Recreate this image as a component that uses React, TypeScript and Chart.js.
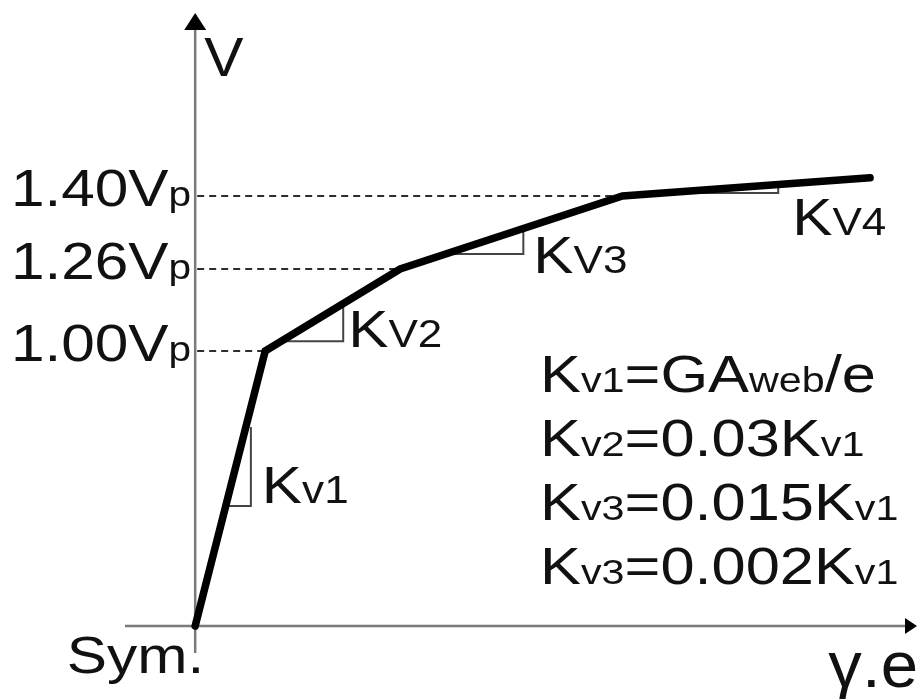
import React, { useEffect, useRef } from 'react';
import { Chart, registerables, LinearScale } from 'chart.js';

// Backbone curve of the web shear spring: shear strain (γ·e) against shear force V
const gammaE = [0, 9.7, 28.4, 59.2, 93.5];
const shearV = [0, 1.0, 1.26, 1.4, 1.435];

// Force levels marked on the V axis (multiples of Vp)
const levelValues = [1.0, 1.26, 1.4];
const levelLabels = ['1.00', '1.26', '1.40'];

// Stiffness of each branch
const slopeNames = ['v1', 'V2', 'V3', 'V4'];
const stiffnessNames = ['v1', 'v2', 'v3', 'v3'];
const stiffnessRules = ['=GA|web|/e', '=0.03K|v1|', '=0.015K|v1|', '=0.002K|v1|'];

// The V axis is schematic: each force level sits at its own height on the axis
const Y_KNOT_VALUES = [0, 1.0, 1.26, 1.4, 1.75];
const Y_KNOT_DECIMALS = [0, 0.4486, 0.5824, 0.7015, 1];

class SchematicScale extends LinearScale {
  static id = 'schematic';
  static defaults = LinearScale.defaults;

  getPixelForValue(value: any) {
    if (value === null || value === undefined || isNaN(+value)) return NaN;
    const v = +value;
    const kv = Y_KNOT_VALUES;
    const kd = Y_KNOT_DECIMALS;
    let i = 0;
    while (i < kv.length - 2 && v > kv[i + 1]) i++;
    const t = (v - kv[i]) / (kv[i + 1] - kv[i]);
    return this.getPixelForDecimal(kd[i] + t * (kd[i + 1] - kd[i]));
  }

  getValueForPixel(pixel: number) {
    const d = this.getDecimalForPixel(pixel);
    const kv = Y_KNOT_VALUES;
    const kd = Y_KNOT_DECIMALS;
    let i = 0;
    while (i < kd.length - 2 && d > kd[i + 1]) i++;
    const t = (d - kd[i]) / (kd[i + 1] - kd[i]);
    return kv[i] + t * (kv[i + 1] - kv[i]);
  }
}

Chart.register(...registerables, SchematicScale);

const FAMILY = '"Liberation Sans", Arial, Helvetica, sans-serif';
const BIG = `52px ${FAMILY}`;
const SMALL = `35px ${FAMILY}`;
const SLOPE_SMALL = `38px ${FAMILY}`;
const STRETCH = 1.16;

type Part = [string, string];

function drawRich(ctx: CanvasRenderingContext2D, parts: Part[], x: number, y: number, align: 'left' | 'right' = 'left', sx = STRETCH) {
  ctx.save();
  ctx.textBaseline = 'alphabetic';
  ctx.textAlign = 'left';
  let total = 0;
  for (const [t, f] of parts) {
    ctx.font = f;
    total += ctx.measureText(t).width;
  }
  const startX = align === 'right' ? x - total * sx : x;
  ctx.translate(startX, y);
  ctx.scale(sx, 1);
  let cx = 0;
  for (const [t, f] of parts) {
    ctx.font = f;
    ctx.fillText(t, cx, 0);
    cx += ctx.measureText(t).width;
  }
  ctx.restore();
}

// Slope triangles: segment index, lower and upper points along the segment
const slopeMarks = [
  { seg: 0, t0: 0.436, t1: 0.724, dx: 5, lx: 11, ly: -3 },
  { seg: 1, t0: 0.12, t1: 0.578, dx: 0, lx: 5, ly: 6 },
  { seg: 2, t0: 0.206, t1: 0.554, dx: 0, lx: 10, ly: 19 },
  { seg: 3, t0: 0.16, t1: 0.629, dx: 0, lx: 14, ly: 42 },
];

const diagramPlugin = {
  id: 'diagram',
  beforeDatasetsDraw(chart: any) {
    const { ctx, chartArea, scales } = chart;
    const xs = scales.x;
    const ys = scales.y;
    const ox = xs.getPixelForValue(0);
    const oy = ys.getPixelForValue(0);
    ctx.save();

    // axes
    ctx.strokeStyle = '#7a7a7a';
    ctx.lineWidth = 2.5;
    ctx.beginPath();
    ctx.moveTo(chartArea.left + 2, oy);
    ctx.lineTo(chartArea.right - 8, oy);
    ctx.moveTo(ox, oy + 27);
    ctx.lineTo(ox, chartArea.top + 12);
    ctx.stroke();

    // dashed force levels
    ctx.strokeStyle = '#2e2e2e';
    ctx.lineWidth = 1.8;
    ctx.setLineDash([7, 5]);
    for (const v of levelValues) {
      const idx = shearV.indexOf(v);
      const py = ys.getPixelForValue(v);
      ctx.beginPath();
      ctx.moveTo(ox + 2, py);
      ctx.lineTo(xs.getPixelForValue(gammaE[idx]), py);
      ctx.stroke();
    }
    ctx.setLineDash([]);

    // slope triangles
    ctx.strokeStyle = '#444';
    ctx.lineWidth = 2;
    for (const m of slopeMarks) {
      const xa = gammaE[m.seg], xb = gammaE[m.seg + 1];
      const va = shearV[m.seg], vb = shearV[m.seg + 1];
      const p0x = xs.getPixelForValue(xa + m.t0 * (xb - xa));
      const p0y = ys.getPixelForValue(va + m.t0 * (vb - va));
      const p1x = xs.getPixelForValue(xa + m.t1 * (xb - xa));
      const p1y = ys.getPixelForValue(va + m.t1 * (vb - va));
      const cx = p1x + m.dx;
      ctx.beginPath();
      ctx.moveTo(p0x, p0y);
      ctx.lineTo(cx, p0y);
      ctx.lineTo(cx, p1y);
      ctx.stroke();
    }
    ctx.restore();
  },
  afterDatasetsDraw(chart: any) {
    const { ctx, chartArea, scales } = chart;
    const xs = scales.x;
    const ys = scales.y;
    const ox = xs.getPixelForValue(0);
    const oy = ys.getPixelForValue(0);
    ctx.save();

    // arrow heads
    ctx.fillStyle = '#000';
    ctx.beginPath();
    ctx.moveTo(ox, chartArea.top);
    ctx.lineTo(ox - 11, chartArea.top + 17);
    ctx.lineTo(ox + 11, chartArea.top + 17);
    ctx.closePath();
    ctx.fill();
    ctx.beginPath();
    ctx.moveTo(chartArea.right, oy);
    ctx.lineTo(chartArea.right - 12, oy - 8);
    ctx.lineTo(chartArea.right - 12, oy + 8);
    ctx.closePath();
    ctx.fill();

    ctx.fillStyle = '#111';
    // axis titles
    drawRich(ctx, [['V', `56px ${FAMILY}`]], ox + 9, chartArea.top + 63, 'left', 1.05);
    drawRich(ctx, [['Sym.', BIG]], ox + 9, oy + 47, 'right');
    drawRich(ctx, [['γ.e', `64px ${FAMILY}`]], chartArea.right + 1, oy + 61, 'right', 1.05);

    // force level labels
    levelValues.forEach((v, i) => {
      const py = ys.getPixelForValue(v);
      drawRich(ctx, [[levelLabels[i] + 'V', BIG], ['p', SMALL]], ox - 4, py + 10, 'right');
    });

    // slope labels
    slopeMarks.forEach((m, i) => {
      const xa = gammaE[m.seg], xb = gammaE[m.seg + 1];
      const va = shearV[m.seg], vb = shearV[m.seg + 1];
      const p0y = ys.getPixelForValue(va + m.t0 * (vb - va));
      const p1x = xs.getPixelForValue(xa + m.t1 * (xb - xa));
      drawRich(ctx, [['K', BIG], [slopeNames[i], SLOPE_SMALL]], p1x + m.dx + m.lx, p0y + m.ly);
    });

    // stiffness definitions
    stiffnessRules.forEach((rule, i) => {
      const pieces = rule.split('|');
      const parts: Part[] = [['K', BIG], [stiffnessNames[i], SMALL]];
      pieces.forEach((p, j) => {
        if (p) parts.push([p, j % 2 === 1 ? SMALL : BIG]);
      });
      drawRich(ctx, parts, 540, 392 + i * 64, 'left', 1.18);
    });
    ctx.restore();
  },
};

export default function App() {
  const canvasRef = useRef<HTMLCanvasElement | null>(null);

  useEffect(() => {
    const canvas = canvasRef.current;
    if (!canvas) return;
    const chart = new Chart(canvas, {
      type: 'scatter',
      data: {
        datasets: [
          {
            data: gammaE.map((x, i) => ({ x, y: shearV[i] })),
            showLine: true,
            borderColor: '#000',
            backgroundColor: '#000',
            borderWidth: 7.5,
            borderJoinStyle: 'miter',
            borderCapStyle: 'round',
            pointRadius: 0,
            pointHoverRadius: 0,
            tension: 0,
            fill: false,
            clip: false,
          } as any,
        ],
      },
      options: {
        animation: false,
        responsive: false,
        devicePixelRatio: 1,
        events: [],
        layout: { padding: { left: 123, right: 3, top: 13, bottom: 73 } },
        scales: {
          x: { type: 'linear', min: -10, max: 100, display: false },
          y: { type: 'schematic' as any, min: 0, max: 1.75, display: false },
        },
        plugins: {
          legend: { display: false },
          tooltip: { enabled: false },
        },
      },
      plugins: [diagramPlugin],
    });
    return () => chart.destroy();
  }, []);

  return (
    <div style={{ position: 'fixed', left: 0, top: 0, width: 920, height: 699, background: '#fff' }}>
      <canvas ref={canvasRef} width={920} height={699} style={{ display: 'block' }} />
    </div>
  );
}
